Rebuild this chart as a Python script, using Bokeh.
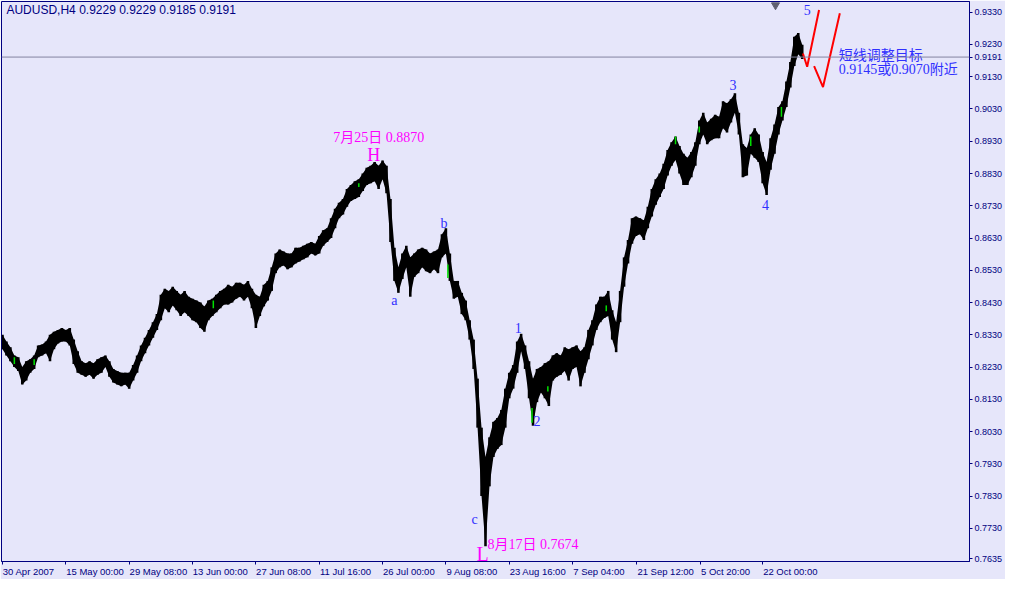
from bokeh.plotting import figure
from bokeh.models import Range1d, FixedTicker, Span, LinearAxis, NumeralTickFormatter
from bokeh.embed import file_html
from bokeh.resources import INLINE
from bokeh.core.properties import value

# ---- data: AUDUSD H4, sampled every 4 bars (bar index, high, low) ----
bar_index = list(range(0, 812, 4))
bar_high = [
    .8330, .8309, .8291, .8266, .8260, .8230, .8248, .8254, .8266, .8297,
    .8300, .8309, .8330, .8339, .8345, .8351, .8345, .8351, .8315, .8279,
    .8248, .8242, .8248, .8242, .8254, .8260, .8266, .8248, .8224, .8218,
    .8212, .8212, .8212, .8236, .8266, .8297, .8321, .8345, .8369, .8394,
    .8454, .8473, .8466, .8479, .8466, .8454, .8466, .8448, .8442, .8436,
    .8430, .8418, .8436, .8442, .8454, .8466, .8473, .8485, .8479, .8491,
    .8491, .8485, .8497, .8473, .8454, .8448, .8485, .8497, .8539, .8582,
    .8594, .8588, .8582, .8582, .8600, .8600, .8606, .8612, .8618, .8612,
    .8636, .8654, .8660, .8691, .8721, .8739, .8751, .8782, .8794, .8806,
    .8812, .8830, .8848, .8854, .8866, .8854, .8870, .8854, .8751, .8600,
    .8539, .8582, .8606, .8570, .8582, .8594, .8600, .8594, .8582, .8588,
    .8594, .8642, .8660, .8582, .8497, .8497, .8460, .8436, .8375, .8315,
    .8194, .8042, .7951, .8012, .8060, .8072, .8097, .8163, .8212, .8236,
    .8309, .8333, .8297, .8248, .8194, .8224, .8230, .8242, .8248, .8266,
    .8273, .8266, .8291, .8285, .8291, .8297, .8279, .8291, .8345, .8375,
    .8424, .8448, .8448, .8466, .8406, .8369, .8466, .8570, .8624, .8691,
    .8697, .8691, .8685, .8727, .8782, .8812, .8830, .8860, .8903, .8927,
    .8945, .8915, .8891, .8879, .8897, .8927, .8994, .9018, .8988, .9000,
    .9012, .9006, .9054, .9048, .9060, .9079, .9018, .8921, .8909, .8951,
    .8970, .8951, .8897, .8866, .8939, .8982, .9036, .9054, .9115, .9176,
    .9254, .9266, .9229,
]
bar_low = [
    .8285, .8266, .8248, .8230, .8218, .8176, .8188, .8212, .8224, .8260,
    .8266, .8273, .8248, .8285, .8303, .8309, .8309, .8297, .8239, .8212,
    .8206, .8200, .8206, .8194, .8206, .8212, .8230, .8200, .8182, .8176,
    .8170, .8176, .8163, .8188, .8212, .8248, .8273, .8297, .8321, .8345,
    .8375, .8412, .8400, .8421, .8406, .8388, .8400, .8388, .8375, .8369,
    .8351, .8339, .8375, .8388, .8400, .8412, .8424, .8424, .8430, .8442,
    .8448, .8436, .8448, .8412, .8351, .8388, .8418, .8436, .8466, .8521,
    .8539, .8545, .8533, .8539, .8551, .8557, .8564, .8570, .8582, .8576,
    .8582, .8606, .8618, .8630, .8660, .8691, .8703, .8727, .8745, .8751,
    .8757, .8776, .8794, .8800, .8806, .8782, .8812, .8769, .8618, .8497,
    .8460, .8503, .8539, .8448, .8509, .8521, .8539, .8527, .8521, .8533,
    .8521, .8570, .8582, .8497, .8442, .8448, .8394, .8375, .8315, .8224,
    .8042, .7830, .7674, .7860, .7951, .7976, .7988, .8042, .8133, .8163,
    .8212, .8279, .8224, .8133, .8048, .8121, .8151, .8133, .8109, .8188,
    .8200, .8206, .8218, .8188, .8224, .8230, .8170, .8212, .8254, .8297,
    .8345, .8369, .8382, .8388, .8315, .8276, .8369, .8479, .8551, .8612,
    .8636, .8642, .8624, .8660, .8697, .8733, .8757, .8782, .8824, .8854,
    .8872, .8830, .8794, .8794, .8818, .8854, .8921, .8951, .8921, .8933,
    .8939, .8939, .8970, .8957, .8988, .9018, .8951, .8818, .8824, .8891,
    .8879, .8866, .8800, .8763, .8842, .8891, .8951, .8994, .9036, .9097,
    .9163, .9200, .9185,
]

# highlighted (green) bars
green_index = [12, 32, 213, 360, 450, 535, 551, 610, 680, 704, 756, 787]
green_high = [.8260, .8254, .8436, .8800, .8548, .8103, .8170, .8421, .8945, .8976, .8945, .9036]
green_low = [.8239, .8236, .8412, .8788, .8506, .8057, .8154, .8403, .8921, .8957, .8915, .9006]

# forecast (red) zigzags
red1_x = [808.7, 813, 825]
red1_y = [.9202, .9161, .9337]
red2_x = [820, 829, 846]
red2_y = [.9163, .9098, .9327]

last_price = 0.9191
header = "AUDUSD,H4  0.9229 0.9229 0.9185 0.9191"

y_ticks = [0.7635, 0.7730, 0.7830, 0.7930, 0.8030, 0.8130, 0.8230, 0.8330, 0.8430,
           0.8530, 0.8630, 0.8730, 0.8830, 0.8930, 0.9030, 0.9130, 0.9191, 0.9230, 0.9330]
x_tick_index = [0, 64, 128, 192, 256, 320, 384, 448, 512, 576, 641, 705, 768]
x_tick_labels = ["30 Apr 2007", "15 May 00:00", "29 May 08:00", "13 Jun 00:00",
                 "27 Jun 08:00", "11 Jul 16:00", "26 Jul 00:00", "9 Aug 08:00",
                 "23 Aug 16:00", "7 Sep 04:00", "21 Sep 12:00", "5 Oct 20:00",
                 "22 Oct 00:00"]
# label centres (labels start at their tick, MetaTrader style)
x_label_pos = [26.5, 93.5, 157.5, 220, 284, 346.5, 410.5, 474.5, 541, 602.5, 670, 730.5, 796]

wave_text = ["a", "b", "c", "1", "2", "3", "4", "5"]
wave_x = [396, 446, 477, 521, 540, 738, 771, 813]
wave_y = [.8436, .8676, .7758, .8351, .8064, .9103, .8733, .9336]

NAVY = "#000080"
BG = "#e6e6fa"
BLUE = "#3030ff"
MAGENTA = "#ff00ff"
SERIF = "Liberation Serif, Noto Sans CJK SC"
SANS = "Liberation Sans"

p = figure(width=1005, height=579, output_backend="svg", toolbar_location=None,
           x_range=Range1d(-1, 977), y_range=Range1d(0.7627, 0.93633),
           y_axis_location="right",
           background_fill_color=BG, border_fill_color=BG,
           min_border_left=1, min_border_top=1, min_border_bottom=0,
           min_border_right=0, outline_line_color=NAVY)
p.grid.visible = False

# y axis (right)
ya = p.yaxis[0]
ya.ticker = FixedTicker(ticks=y_ticks)
ya.formatter = NumeralTickFormatter(format="0.0000")

# x axis: tick marks on the frame, labels on a second axis just below
xa = p.xaxis[0]
xa.ticker = FixedTicker(ticks=x_tick_index)
xa.major_label_text_alpha = 0
xa.major_label_text_font_size = "1px"
xa.major_label_standoff = 0

xl = LinearAxis(ticker=FixedTicker(ticks=x_label_pos),
                major_label_overrides={pos: s for pos, s in zip(x_label_pos, x_tick_labels)},
                axis_line_color=None, major_tick_line_color=None,
                major_tick_out=0, major_tick_in=0, minor_tick_line_color=None,
                major_label_standoff=1, major_label_text_color=NAVY,
                major_label_text_font=SANS, major_label_text_font_size="9.5px")
p.add_layout(xl, "below")

for ax in (xa, ya):
    ax.axis_line_color = NAVY
    ax.major_tick_line_color = NAVY
    ax.minor_tick_line_color = None
    ax.major_tick_in = 0
    ax.major_tick_out = 3
    ax.major_label_text_color = NAVY
    ax.major_label_text_font = SANS
ya.major_label_standoff = 2
ya.major_label_text_font_size = "9px"

# current price line
p.add_layout(Span(location=last_price, dimension="width", line_color="#8484a0", line_width=1))

# bars: price band plus individual bar blocks
p.varea(x=bar_index, y1=bar_low, y2=bar_high, fill_color="black")
p.vbar(x=bar_index, width=2.6, top=bar_high, bottom=bar_low, fill_color="black", line_color=None)
p.segment(x0=green_index, x1=green_index, y0=green_low, y1=green_high, line_color="#00e000", line_width=1.5)

# forecast zigzags
p.line(red1_x, red1_y, line_color="red", line_width=2)
p.line(red2_x, red2_y, line_color="red", line_width=2)

# shift marker
p.scatter([781], [0.9352], marker="inverted_triangle", size=8, color="#606070")

# header
p.text(x=[4], y=[0.9336], text=[header], text_align="left", text_baseline="middle",
       text_color=NAVY, text_font=value(SANS), text_font_size="12px")

# wave labels
p.text(x=wave_x, y=wave_y, text=wave_text, text_align="center", text_baseline="middle",
       text_color=BLUE, text_font=value(SERIF), text_font_size="14px")

# high / low annotations
p.text(x=[375], y=[.8888], text=["H"], text_align="center", text_baseline="middle",
       text_color=MAGENTA, text_font=value(SERIF), text_font_size="18px")
p.text(x=[485], y=[.7651], text=["L"], text_align="center", text_baseline="middle",
       text_color=MAGENTA, text_font=value(SERIF), text_font_size="20px")
p.text(x=[382], y=[.8942], text=["7月25日  0.8870"], text_align="center", text_baseline="middle",
       text_color=MAGENTA, text_font=value(SERIF), text_font_size="14px")
p.text(x=[490], y=[.7679], text=["8月17日  0.7674"], text_align="left", text_baseline="middle",
       text_color=MAGENTA, text_font=value(SERIF), text_font_size="14px")

# target note
p.text(x=[845, 845], y=[.9197, .9151], text=["短线调整目标", "0.9145或0.9070附近"],
       text_align="left", text_baseline="middle",
       text_color=BLUE, text_font=value(SERIF), text_font_size="14px")

open("out.html", "w").write(file_html(p, INLINE))
